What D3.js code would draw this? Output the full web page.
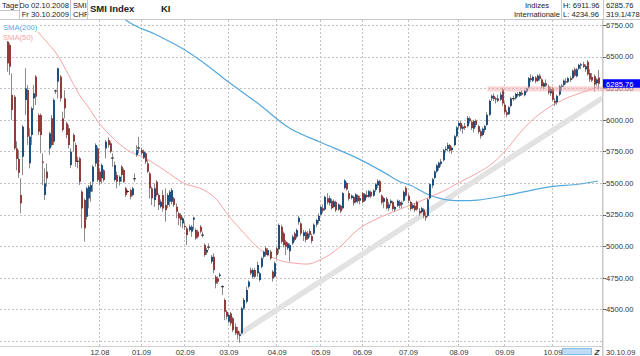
<!DOCTYPE html>
<html><head><meta charset="utf-8">
<script src="https://cdn.jsdelivr.net/npm/d3@7"></script>
<style>
html,body{margin:0;padding:0;background:#fff;}
svg{display:block;font-family:"Liberation Sans",Arial,sans-serif;}
</style></head><body>
<svg id="c" width="640" height="356"></svg>
<script>
// ---- data ----
const open=[6619,6592,6197,6183,5774,5690,5405,5708,6157,6236,
5656,5880,6170,6342,6038,6038,5670,5405,5590,5774,
6012,5827,6225,6302,6342,6012,6170,5972,5933,5642,
5880,5801,5669,5695,5431,5365,5233,5378,5431,5510,
5655,5774,5590,5537,5600,5774,5840,5814,5700,5524,
5563,5510,5629,5603,5458,5431,5444,5405,5530,5721,
5774,5761,5700,5735,5655,5576,5458,5365,5510,5405,
5312,5405,5326,5326,5352,5352,5378,5312,5260,5246,
5180,5160,5141,5128,5115,5210,5128,5115,5154,5085,
5009,4950,4995,4877,4916,4758,4745,4765,4680,4574,
4481,4402,4468,4429,4362,4330,4290,4310,4508,4560,
4679,4811,4758,4811,4785,4732,4837,4916,4983,4930,
4956,4798,4760,4983,4975,5154,5101,5035,4983,4960,
5022,5101,5075,5190,5180,5080,5110,5060,5120,5080,
5100,5170,5200,5250,5300,5290,5380,5340,5360,5310,
5350,5290,5320,5300,5460,5500,5420,5380,5390,5350,
5400,5360,5420,5360,5405,5390,5430,5400,5445,5480,
5515,5400,5350,5375,5300,5340,5350,5290,5320,5350,
5330,5360,5460,5400,5350,5300,5320,5350,5280,5270,
5290,5240,5240,5380,5480,5540,5590,5620,5650,5680,
5760,5770,5800,5760,5800,5870,5950,5975,5930,5950,
5950,6010,5985,5930,5995,5950,5910,5880,5920,5960,
6040,6170,6190,6160,6170,6160,6240,6120,6060,6045,
6110,6170,6170,6200,6190,6215,6195,6225,6255,6330,
6310,6335,6310,6350,6320,6260,6290,6265,6210,6250,
6150,6140,6200,6260,6275,6305,6300,6330,6330,6400,
6345,6405,6430,6440,6400,6460,6370,6340,6345,6290,
6335];
const high=[6632,6606,6368,6197,5830,5760,5537,5959,6408,6276,
5933,6104,6276,6355,6051,6051,5735,5616,5655,5906,
6038,6170,6240,6413,6355,6065,6236,5985,5959,5774,
5893,5820,5708,5708,5444,5378,5471,5484,5510,5642,
5814,5788,5616,5655,5610,5840,5860,5830,5735,5669,
5590,5560,5642,5615,5470,5445,5455,5470,5576,5800,
5866,5780,5765,5745,5680,5589,5471,5497,5523,5418,
5370,5444,5457,5420,5444,5460,5390,5339,5273,5260,
5233,5193,5154,5170,5167,5233,5141,5130,5167,5115,
5022,4985,5022,4930,4943,4771,4760,4790,4692,4587,
4495,4470,4480,4440,4389,4360,4323,4521,4590,4679,
4730,4830,4825,4825,4877,4798,4916,4965,4996,4985,
4970,4811,4880,4996,5180,5170,5115,5049,5035,5022,
5090,5115,5140,5240,5190,5130,5125,5120,5140,5100,
5180,5215,5260,5320,5330,5400,5420,5400,5375,5370,
5360,5340,5330,5430,5530,5510,5440,5410,5400,5420,
5410,5400,5430,5420,5440,5445,5440,5450,5500,5530,
5525,5410,5390,5390,5350,5370,5360,5320,5370,5365,
5360,5440,5475,5420,5360,5340,5340,5360,5300,5310,
5300,5270,5380,5500,5540,5600,5650,5670,5690,5770,
5790,5820,5810,5790,5880,5950,5990,5990,5960,5975,
6030,6025,5995,6000,6005,5960,5925,5940,5960,6060,
6160,6200,6210,6180,6200,6220,6255,6140,6080,6110,
6180,6190,6215,6220,6225,6235,6240,6255,6340,6360,
6350,6345,6360,6365,6330,6300,6320,6280,6260,6260,
6170,6200,6275,6285,6320,6330,6340,6345,6400,6415,
6410,6445,6450,6460,6440,6474,6400,6370,6360,6330,
6395];
const low=[6381,6355,6000,5761,5600,5540,5260,5563,6038,5801,
5616,5801,6078,6117,5880,5735,5484,5365,5471,5722,
5788,5801,6205,6170,6144,5906,6012,5854,5774,5620,
5748,5629,5616,5484,5141,5036,5210,5299,5352,5431,
5629,5510,5484,5497,5510,5695,5780,5735,5629,5510,
5458,5480,5510,5500,5390,5420,5370,5395,5510,5708,
5735,5720,5690,5650,5580,5378,5326,5312,5392,5286,
5300,5273,5194,5300,5312,5330,5310,5220,5167,5154,
5141,5128,5009,5115,5075,5128,5049,5060,5101,5070,
4916,4930,4970,4860,4785,4666,4700,4752,4613,4415,
4420,4390,4370,4320,4296,4260,4235,4305,4495,4547,
4665,4770,4745,4745,4758,4719,4824,4900,4916,4920,
4890,4719,4750,4900,4942,5020,4990,4930,4970,4880,
5010,5035,5060,5170,5080,5040,5030,5050,5070,5020,
5090,5150,5180,5240,5260,5280,5330,5320,5290,5300,
5270,5280,5260,5290,5450,5440,5360,5370,5320,5340,
5340,5330,5340,5350,5380,5385,5380,5390,5430,5460,
5420,5330,5300,5290,5280,5320,5280,5270,5310,5300,
5300,5350,5390,5340,5280,5290,5270,5280,5240,5260,
5220,5200,5230,5370,5460,5530,5580,5600,5630,5670,
5740,5750,5740,5730,5790,5860,5930,5910,5890,5920,
5940,5970,5920,5900,5940,5890,5850,5870,5900,5950,
6030,6150,6150,6130,6140,6150,6110,6040,6020,6040,
6100,6150,6160,6180,6180,6190,6185,6215,6250,6300,
6300,6290,6300,6310,6250,6240,6260,6200,6190,6150,
6110,6120,6190,6230,6260,6280,6290,6300,6320,6340,
6335,6395,6400,6410,6380,6350,6300,6300,6225,6270,
6240];
const close=[6447,6421,6078,5774,5690,5580,5339,5946,6249,5867,
5867,6091,6210,6183,5906,5880,5660,5497,5537,5893,
5801,6157,6232,6408,6170,5920,6091,5880,5801,5748,
5827,5669,5675,5510,5299,5141,5458,5471,5484,5629,
5801,5524,5510,5642,5524,5827,5800,5748,5695,5642,
5510,5550,5563,5510,5405,5435,5392,5458,5537,5761,
5780,5735,5748,5669,5590,5458,5378,5458,5405,5326,
5352,5299,5286,5405,5431,5444,5326,5273,5220,5207,
5220,5150,5088,5154,5154,5225,5062,5075,5115,5090,
4930,4970,4990,4916,4811,4705,4718,4775,4678,4481,
4442,4455,4389,4336,4310,4300,4302,4508,4574,4653,
4719,4785,4811,4758,4851,4785,4903,4956,4930,4969,
4903,4745,4865,4930,5167,5035,5009,4996,5022,5009,
5075,5049,5128,5225,5100,5110,5050,5100,5090,5040,
5170,5207,5240,5310,5280,5390,5345,5380,5300,5355,
5285,5330,5275,5420,5520,5450,5375,5400,5340,5410,
5355,5380,5350,5410,5390,5435,5395,5440,5490,5515,
5430,5345,5380,5300,5330,5360,5295,5310,5360,5320,
5345,5430,5400,5360,5295,5325,5285,5290,5260,5300,
5240,5225,5370,5490,5530,5590,5640,5660,5670,5760,
5770,5800,5755,5780,5870,5940,5975,5930,5945,5935,
6015,5990,5935,5990,5960,5905,5870,5930,5950,6040,
6150,6190,6165,6170,6150,6200,6130,6060,6040,6100,
6170,6165,6205,6195,6220,6200,6230,6250,6330,6315,
6340,6305,6350,6325,6265,6290,6270,6215,6245,6160,
6135,6190,6265,6270,6310,6295,6330,6315,6390,6350,
6400,6435,6440,6420,6425,6360,6320,6310,6280,6320,
6285.76];

// SMA lines: [trading-day index, value]
const sma200=[[50,6850],[55.4,6777],[68.4,6672],[81.3,6553],[90,6450],[100,6315],[115,6125],[129,5935],[143,5824],[160,5697],[172,5586],[179.5,5510],[184,5484],[193,5405],[202,5365],[208,5360],[215,5365],[225,5391],[236,5430],[248,5470],[262,5492],[270,5516]];
const sma50=[[10,6800],[14,6700],[18,6620],[23,6513],[28,6360],[33,6200],[38,6080],[41,5999],[47,5880],[55,5760],[63,5698],[72,5600],[81,5497],[90,5444],[96,5365],[101,5246],[107,5127],[116,4969],[124,4890],[131,4866],[137,4858],[143,4890],[152,4993],[160,5127],[167,5200],[175,5262],[190,5365],[202,5460],[207,5508],[215,5580],[222,5658],[228,5761],[234,5890],[240,5999],[246,6080],[251,6133],[256,6175],[262,6212],[270,6262]];
const trendLine=[[105.5,4296],[272,6173]];
const resistBand={from:220,lo:6225,hi:6265};
const yTicks=[6750,6500,6250,6000,5750,5500,5250,5000,4750,4500];
const gridLevels=[6750,6500,6250,6000,5750,5500,5250,5000,4750,4500,4250];
const monthLabels=["12.08","01.09","02.09","03.09","04.09","05.09","06.09","07.09","08.09","09.09","10.09"];
const holidays=["2008-12-24","2008-12-25","2008-12-26","2008-12-31","2009-01-01","2009-01-02","2009-04-10","2009-04-13","2009-05-01","2009-05-21","2009-06-01"];
const lastClose=6285.76;

// ---- trading calendar (categories) ----
const iso=d3.utcFormat("%Y-%m-%d"), mfmt=d3.utcFormat("%m.%y");
const hol=new Set(holidays);
const days=d3.utcDay.range(Date.UTC(2008,9,2),Date.UTC(2009,9,31))
  .filter(d=>d.getUTCDay()%6!==0 && !hol.has(iso(d)));
const monthIdx=[];
days.forEach((d,i)=>{ if(i===0||d.getUTCMonth()!==days[i-1].getUTCMonth()){ const l=mfmt(d); if(monthLabels.includes(l)) monthIdx.push({i,l}); }});

// ---- scales ----
const N=close.length;
const x=d3.scaleLinear().domain([0,N-1]).range([7,598]);
const y=d3.scaleLinear().domain([4250,6750]).range([340.9,25.1]);
const PR=602, PT=20, PB=346;

const svg=d3.select("#c");
svg.append("rect").attr("width",640).attr("height",356).attr("fill","#fff");
svg.append("defs").append("clipPath").attr("id","clip").append("rect")
  .attr("x",0).attr("y",PT).attr("width",PR).attr("height",PB-PT);

// grid
const grid=svg.append("g").attr("stroke","#c2c2c2").attr("stroke-dasharray","2,2").attr("stroke-width",1);
gridLevels.forEach(v=>{const yy=Math.round(y(v))+0.5;
  grid.append("line").attr("x1",0).attr("x2",PR).attr("y1",yy).attr("y2",yy);});
monthIdx.forEach(m=>{const xx=Math.round(x(m.i))+0.5;
  grid.append("line").attr("x1",xx).attr("x2",xx).attr("y1",PT).attr("y2",PB);});

// frame lines
svg.append("line").attr("x1",0).attr("x2",640).attr("y1",19.5).attr("y2",19.5).attr("stroke","#c8c8c8");
svg.append("line").attr("x1",0).attr("x2",PR).attr("y1",PB+0.5).attr("y2",PB+0.5).attr("stroke","#d0d0d0");
svg.append("line").attr("x1",PR+0.75).attr("x2",PR+0.75).attr("y1",PT).attr("y2",356).attr("stroke","#c8c8c8").attr("stroke-width",1.5);

// y axis labels
const ya=svg.append("g").attr("font-size","7.6px").attr("fill","#333");
yTicks.forEach(v=>{const yy=y(v);
  ya.append("line").attr("x1",PR+1).attr("x2",PR+4).attr("y1",Math.round(yy)+0.5).attr("y2",Math.round(yy)+0.5).attr("stroke","#666");
  ya.append("text").attr("x",606).attr("y",yy+2.8).text(v.toFixed(2));});

// x axis labels
const xa=svg.append("g").attr("font-size","7.6px").attr("fill","#333").attr("text-anchor","middle");
monthIdx.forEach(m=>xa.append("text").attr("x",x(m.i)+1).attr("y",355).text(m.l));

// plot layer
const pl=svg.append("g").attr("clip-path","url(#clip)");
// trend line
pl.append("path").datum(trendLine).attr("fill","none").attr("stroke","#e2e2e2").attr("stroke-width",5.5)
  .attr("d",d3.line().x(d=>x(d[0])).y(d=>y(d[1])));
// SMA lines
const sl=d3.line().x(d=>x(d[0])).y(d=>y(d[1])).curve(d3.curveMonotoneX);
pl.append("path").datum(sma200).attr("fill","none").attr("stroke","#55a8dd").attr("stroke-width",1.2).attr("d",sl);
pl.append("path").datum(sma50).attr("fill","none").attr("stroke","#f7a4a4").attr("stroke-width",1).attr("d",sl);

// candles
const cg=pl.append("g");
for(let i=0;i<N;i++){
  const xi=Math.round(x(i));
  cg.append("line").attr("x1",xi+0.5).attr("x2",xi+0.5).attr("y1",y(high[i])).attr("y2",y(low[i]))
    .attr("stroke","#8a8a8a").attr("stroke-width",1);
  const o=open[i],c=close[i];
  const top=y(Math.max(o,c)), bot=y(Math.min(o,c));
  if(bot-top<1.2){
    cg.append("rect").attr("x",xi-1).attr("y",(top+bot)/2-0.5).attr("width",3).attr("height",1).attr("fill","#222");
  } else {
    cg.append("rect").attr("x",xi).attr("y",top).attr("width",2).attr("height",bot-top)
      .attr("fill",c>=o?"#1d5080":"#913b3b");
  }
}

// resistance band
svg.append("rect").attr("x",x(resistBand.from)-1).attr("y",y(resistBand.hi))
  .attr("width",640-x(resistBand.from)+1).attr("height",y(resistBand.lo)-y(resistBand.hi))
  .attr("fill","#f4a9a9").attr("opacity",0.5);

// last price label
const yc=y(lastClose);
svg.append("rect").attr("x",PR+1).attr("y",yc-4.5).attr("width",38).attr("height",8.5).attr("fill","#0000ff");
svg.append("text").attr("x",606).attr("y",yc+2.8).attr("font-size","7.6px").attr("fill","#fff").text(lastClose.toFixed(2));

// legend
svg.append("rect").attr("x",0).attr("y",20.5).attr("width",38).attr("height",20.5).attr("fill","#fff");
svg.append("text").attr("x",3).attr("y",29.8).attr("font-size","7.6px").attr("fill","#55a8dd").text("SMA(200)");
svg.append("text").attr("x",3).attr("y",39.8).attr("font-size","7.6px").attr("fill","#f7a4a4").text("SMA(50)");

// scrollbar / end date
svg.append("rect").attr("x",562.5).attr("y",348.5).attr("width",29).attr("height",6).attr("fill","#bfdcf4").attr("stroke","#86bde8");
svg.append("text").attr("x",594.5).attr("y",355).attr("font-size","8px").attr("font-weight","bold").attr("font-style","italic").attr("fill","#333").text("Z");
svg.append("text").attr("x",606).attr("y",355).attr("font-size","7.6px").attr("fill","#333").text("30.10.09");

// header
const hd=svg.append("g").attr("font-size","7.6px").attr("fill","#222");
const hl=(x1,y1,x2,y2)=>svg.append("line").attr("x1",x1).attr("y1",y1).attr("x2",x2).attr("y2",y2).attr("stroke","#c8c8c8");
hl(19.5,0,19.5,19); hl(0,10.5,19.5,10.5); hl(70.5,0,70.5,19); hl(87.5,0,87.5,19);
hl(561.5,0,561.5,19); hl(603.5,0,603.5,19);
hd.append("text").attr("x",2).attr("y",8).text("Tage");
hd.append("text").attr("x",69).attr("y",8).attr("text-anchor","end").text("Do 02.10.2008");
hd.append("text").attr("x",69).attr("y",17).attr("text-anchor","end").text("Fr 30.10.2009");
hd.append("text").attr("x",73).attr("y",8).text("SMI");
hd.append("text").attr("x",73).attr("y",17).text("CHF");
hd.append("text").attr("x",90).attr("y",11.5).attr("font-size","9.5px").attr("font-weight","bold").text("SMI Index");
hd.append("text").attr("x",161).attr("y",11.5).attr("font-size","9.5px").attr("font-weight","bold").text("KI");
hd.append("text").attr("x",537).attr("y",8).attr("text-anchor","middle").text("Indizes");
hd.append("text").attr("x",560).attr("y",17).attr("text-anchor","end").text("Internationale");
hd.append("text").attr("x",563).attr("y",8).text("H: 6911.96");
hd.append("text").attr("x",563).attr("y",17).text("L: 4234.96");
hd.append("text").attr("x",606).attr("y",8).text("6285.76");
hd.append("text").attr("x",606).attr("y",17).text("319.1/478");
</script>
</body></html>
